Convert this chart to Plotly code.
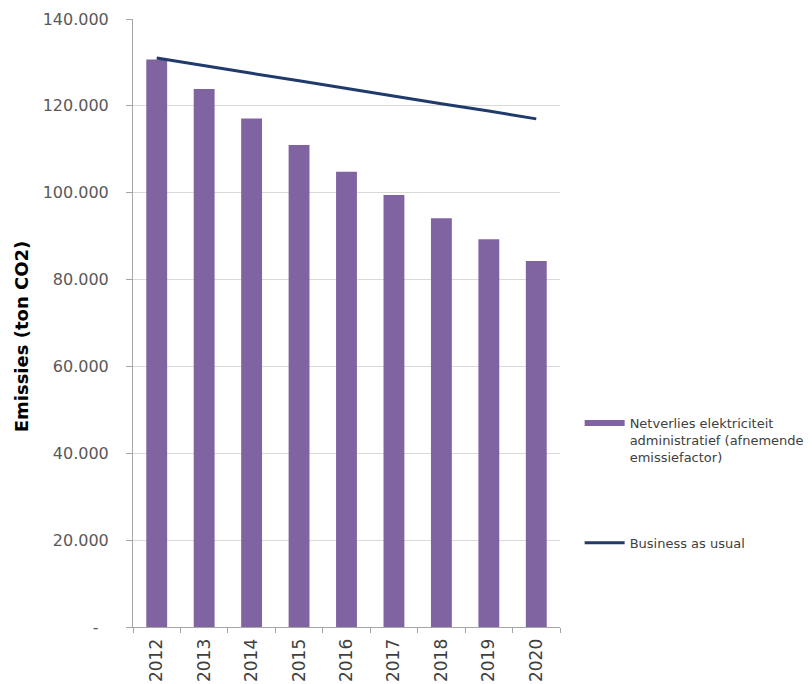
import plotly.graph_objects as go

years = ["2012", "2013", "2014", "2015", "2016", "2017", "2018", "2019", "2020"]
netverlies = [130700, 123900, 117100, 111000, 104800, 99500, 94100, 89300, 84300]
business_as_usual = [131000, 129200, 127500, 125800, 124000, 122300, 120500, 118800, 117000]
y_tickvals = [0, 20000, 40000, 60000, 80000, 100000, 120000, 140000]
y_ticktext = ["-\u00a0\u00a0", "20.000", "40.000", "60.000", "80.000", "100.000", "120.000", "140.000"]

BAR_NAME = "Netverlies elektriciteit<br>administratief (afnemende<br>emissiefactor)"
FONT = "DejaVu Sans, Verdana, sans-serif"
BAR_COLOR = "#8064A2"
LINE_COLOR = "#1F3A6B"

fig = go.Figure()
fig.add_trace(go.Bar(
    x=years, y=netverlies, name=BAR_NAME,
    marker=dict(color=BAR_COLOR, line=dict(width=0)),
    showlegend=False,
))
# legend entry for the bars (Excel-style wide rectangle swatch)
fig.add_trace(go.Scatter(
    x=[years[0]], y=[None], mode="lines", name=BAR_NAME,
    line=dict(color=BAR_COLOR, width=6),
    legendgroup="a", hoverinfo="skip",
))
fig.add_trace(go.Scatter(
    x=years, y=business_as_usual, mode="lines",
    name="Business as usual",
    line=dict(color=LINE_COLOR, width=3),
    legendgroup="b",
))

# page has 8px body margin; offsets below compensate
fig.update_layout(
    width=812, height=684,
    margin=dict(l=125, r=255, t=11, b=65),
    paper_bgcolor="white", plot_bgcolor="white",
    bargap=0.56,
    font=dict(family=FONT, size=13, color="#404040"),
    showlegend=True,
    legend=dict(
        x=1.046, y=0.36, xanchor="left", yanchor="top",
        traceorder="grouped", tracegroupgap=66, valign="top",
        font=dict(family=FONT, size=13, color="#404040"),
        itemwidth=40,
    ),
    annotations=[dict(
        text="<b>Emissies (ton CO2)</b>", textangle=-90,
        xref="paper", yref="paper", x=-0.2616, y=0.4786,
        xanchor="center", yanchor="middle", showarrow=False,
        font=dict(family=FONT, size=18, color="#000000"),
    )],
)
fig.update_xaxes(
    type="category", automargin=False,
    showline=True, linecolor="#A6A6A6", linewidth=1,
    ticks="outside", tickson="boundaries", ticklen=5, tickcolor="#A6A6A6",
    tickangle=-90, showgrid=False, ticklabelstandoff=4,
    tickfont=dict(family=FONT, size=17, color="#404040"),
)
fig.update_yaxes(
    range=[0, 140000], automargin=False,
    tickvals=y_tickvals, ticktext=y_ticktext,
    showgrid=True, gridcolor="#D9D9D9", gridwidth=1,
    showline=True, linecolor="#A6A6A6", linewidth=1,
    ticks="outside", ticklen=6, tickcolor="#A6A6A6",
    ticklabelstandoff=14,
    zeroline=False,
    tickfont=dict(family=FONT, size=16, color="#595959"),
)

fig.write_html("out.html")
